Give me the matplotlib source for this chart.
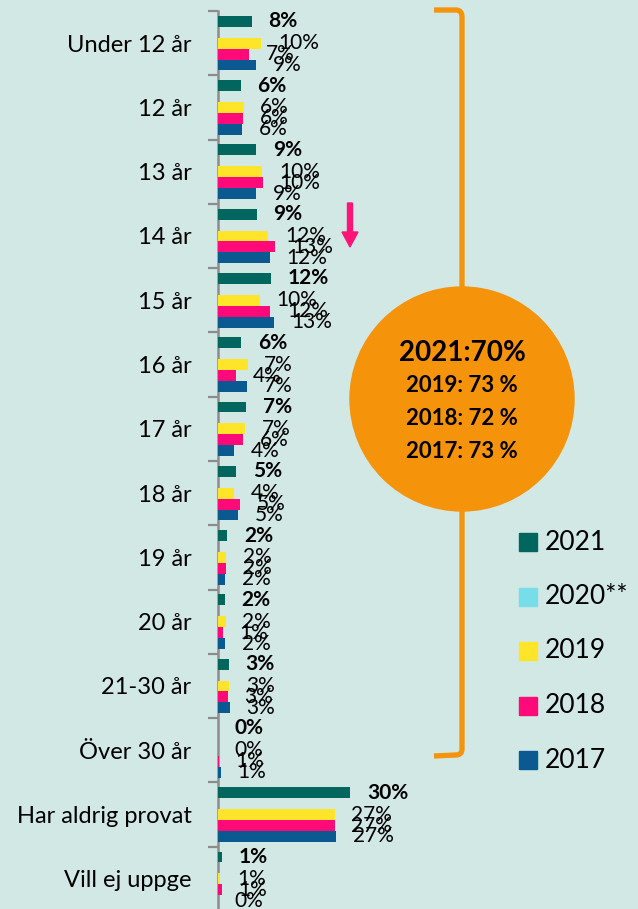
import matplotlib
matplotlib.use("Agg")
import matplotlib.pyplot as plt
import numpy as np
from matplotlib.patches import Circle, Rectangle, FancyArrow
from matplotlib.path import Path
from matplotlib.patches import PathPatch

plt.rcParams['font.family'] = ['Lato', 'DejaVu Sans']

# categories (top to bottom)
categories = ["Under 12 år", "12 år", "13 år", "14 år", "15 år", "16 år", "17 år",
              "18 år", "19 år", "20 år", "21-30 år", "Över 30 år",
              "Har aldrig provat", "Vill ej uppge"]

# bar lengths (percent)
v2021 = [7.6, 5.1, 8.6, 8.8, 11.9, 5.2, 6.3, 4.1, 2.1, 1.6, 2.5, 0.0, 29.9, 0.8]
v2020 = [None] * 14
v2019 = [9.8, 5.8, 10.0, 11.4, 9.4, 6.7, 6.2, 3.7, 1.9, 1.7, 2.5, 0.0, 26.4, 0.5]
v2018 = [7.1, 5.7, 10.1, 13.0, 11.8, 4.1, 5.7, 4.9, 1.9, 1.1, 2.2, 0.2, 26.4, 0.8]
v2017 = [8.6, 5.5, 8.6, 11.7, 12.7, 6.6, 3.6, 4.6, 1.6, 1.6, 2.7, 0.7, 26.7, 0.0]

# printed data labels
lab2021 = [8, 6, 9, 9, 12, 6, 7, 5, 2, 2, 3, 0, 30, 1]
lab2019 = [10, 6, 10, 12, 10, 7, 7, 4, 2, 2, 3, 0, 27, 1]
lab2018 = [7, 6, 10, 13, 12, 4, 6, 5, 2, 1, 3, 1, 27, 1]
lab2017 = [9, 6, 9, 12, 13, 7, 4, 5, 2, 2, 3, 1, 27, 0]

years = ["2021", "2020**", "2019", "2018", "2017"]
colors = ["#00665E", "#77DDE8", "#FFE52A", "#FF0A78", "#0A5A91"]

circle_lines = ["2021:70%", "2019: 73 %", "2018: 72 %", "2017: 73 %"]

bg = "#D2E8E5"
orange = "#F5930A"

W, H = 638, 909
fig = plt.figure(figsize=(W / 100, H / 100), dpi=100, facecolor=bg)

# main bar axes: x=0 at 218px, 4.42 px per percent, 64.3 px per category
ax_w = 300
ax = fig.add_axes([218 / W, (H - 911) / H, ax_w / W, 900 / H])
ax.set_facecolor("none")
ax.set_xlim(0, ax_w / 4.42)
ax.set_ylim(13.5, -0.5)

series = [(v2021, lab2021, True), (v2020, None, False), (v2019, lab2019, False),
          (v2018, lab2018, False), (v2017, lab2017, False)]
offsets = [-0.34, -0.17, 0.0, 0.17, 0.34]
y = np.arange(len(categories))

for (vals, labs, bold), off, col in zip(series, offsets, colors):
    if labs is None:
        continue
    ax.barh(y + off, vals, height=0.17, color=col, zorder=3)
    for yi, v, lab in zip(y + off, vals, labs):
        ax.annotate(f"{lab}%", (v, yi), xytext=(12, 0), textcoords="offset points",
                    ha="left", va="center", fontsize=15,
                    fontweight="bold" if bold else "normal", color="black",
                    zorder=4, annotation_clip=False)

for s in ["top", "right", "bottom"]:
    ax.spines[s].set_visible(False)
ax.spines["left"].set_color("#8C8C8C")
ax.spines["left"].set_linewidth(1.8)
ax.set_xticks([])
ax.set_yticks(np.arange(-0.5, 14, 1))
ax.set_yticklabels([])
ax.tick_params(axis="y", which="major", length=7, width=1.6, color="#8C8C8C")
ax.set_yticks(y, minor=True)
ax.set_yticklabels(categories, minor=True, fontsize=17)
ax.tick_params(axis="y", which="minor", length=0, pad=19)

# overlay in pixel coordinates
ov = fig.add_axes([0, 0, 1, 1])
ov.set_xlim(0, W)
ov.set_ylim(H, 0)
ov.axis("off")
ov.set_facecolor("none")

# bracket
verts = [(434, 10), (456, 10), (462, 10), (462, 17), (462, 749), (462, 755), (456, 755), (434, 756)]
codes = [Path.MOVETO, Path.LINETO, Path.CURVE3, Path.CURVE3, Path.LINETO,
         Path.CURVE3, Path.CURVE3, Path.LINETO]
ov.add_patch(PathPatch(Path(verts, codes), fill=False, edgecolor=orange, lw=3.8,
                       capstyle="butt", joinstyle="round"))

# circle with totals
ov.add_patch(Circle((462, 399), 112, color=orange, zorder=5))
ov.text(462, 353, circle_lines[0], ha="center", va="center", fontsize=20,
        fontweight="bold", zorder=6)
for i, t in enumerate(circle_lines[1:]):
    ov.text(462, 386 + i * 32.5, t, ha="center", va="center", fontsize=16,
            fontweight="bold", zorder=6)

# pink arrow
ov.add_patch(FancyArrow(350, 203, 0, 44, width=5, head_width=16, head_length=15,
                        length_includes_head=True, color="#FF1477", zorder=6))

# legend
for i, (yr, col) in enumerate(zip(years, colors)):
    yy = 542 + i * 54.5
    ov.add_patch(Rectangle((519, yy - 9), 18, 18, color=col))
    ov.text(545, yy, yr, ha="left", va="center", fontsize=19)

fig.savefig("out.png", dpi=100, facecolor=bg)
